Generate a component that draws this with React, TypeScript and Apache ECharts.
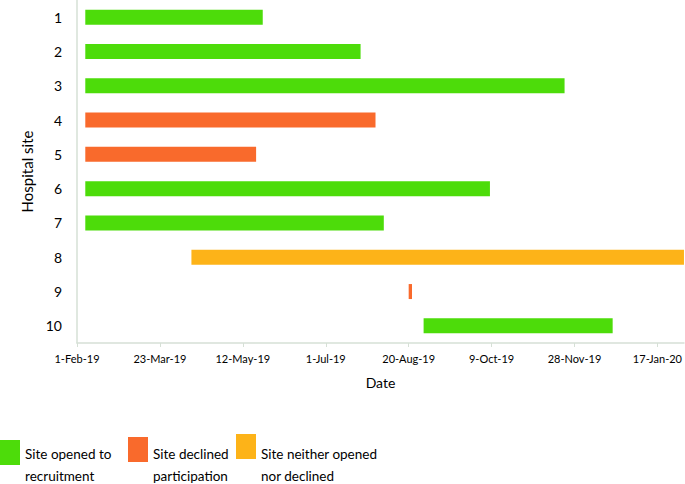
import React, { useEffect, useRef } from "react";
import * as echarts from "echarts";

const sites = ["1", "2", "3", "4", "5", "6", "7", "8", "9", "10"];
const startDates = [
  "2019-02-06", "2019-02-06", "2019-02-06", "2019-02-06", "2019-02-06",
  "2019-02-06", "2019-02-06", "2019-04-11", "2019-08-20", "2019-08-29",
];
const endDates = [
  "2019-05-24", "2019-07-22", "2019-11-22", "2019-07-31", "2019-05-20",
  "2019-10-08", "2019-08-05", "2020-02-02", "2019-08-22", "2019-12-21",
];
// 0 = opened, 1 = declined, 2 = neither
const statuses = [0, 0, 0, 1, 1, 0, 0, 2, 1, 0];
const statusNames = [
  "Site opened to\nrecruitment",
  "Site declined\nparticipation",
  "Site neither opened\nnor declined",
];
const statusColors = ["#4ddc0a", "#f96a2c", "#fdb318"];
const axisStart = "2019-02-01";
const axisEndDays = 366;
const tickStepDays = 50;

const MONTHS = ["Jan", "Feb", "Mar", "Apr", "May", "Jun", "Jul", "Aug", "Sep", "Oct", "Nov", "Dec"];
const DAY = 86400000;
const toMs = (s: string) => {
  const [y, m, d] = s.split("-").map(Number);
  return Date.UTC(y, m - 1, d);
};
const base = toMs(axisStart);
const toDays = (s: string) => (toMs(s) - base) / DAY;
const fmt = (days: number) => {
  const d = new Date(base + days * DAY);
  return `${d.getUTCDate()}-${MONTHS[d.getUTCMonth()]}-${String(d.getUTCFullYear()).slice(2)}`;
};

const FONT = "Lato, 'Noto Sans', sans-serif";

export default function App() {
  const ref = useRef<HTMLDivElement>(null);
  useEffect(() => {
    document.body.style.margin = "0";
    document.body.style.overflow = "hidden";
    if (!ref.current) return;
    const chart = echarts.init(ref.current, undefined, { renderer: "svg" });
    const data = sites.map((s, i) => ({
      value: [toDays(startDates[i]), toDays(endDates[i]), i],
      itemStyle: { color: statusColors[statuses[i]] },
    }));
    const legendX = [0, 128, 236];
    const legendY = [440, 437, 434];
    const graphics: any[] = [];
    statusNames.forEach((name, k) => {
      graphics.push({
        type: "rect",
        left: legendX[k],
        top: legendY[k],
        shape: { width: 20, height: 25 },
        style: { fill: statusColors[k] },
      });
      graphics.push({
        type: "text",
        left: legendX[k] + 25,
        top: 443,
        style: {
          text: name,
          font: `13.5px ${FONT}`,
          fill: "#000",
          lineHeight: 22,
        },
      });
    });
    chart.setOption({
      animation: false,
      textStyle: { fontFamily: FONT },
      grid: { left: 77, right: 0, top: 0, bottom: 141, containLabel: false },
      xAxis: {
        type: "value",
        min: 0,
        max: axisEndDays,
        interval: tickStepDays,
        name: "Date",
        nameLocation: "middle",
        nameGap: 32,
        nameTextStyle: { fontSize: 14, color: "#000", fontFamily: FONT },
        axisLine: { show: true, lineStyle: { color: "#d6e0d6", width: 1.5 } },
        axisTick: { show: true, length: 4, lineStyle: { color: "#d6e0d6" } },
        splitLine: { show: false },
        axisLabel: {
          fontSize: 11,
          color: "#000",
          margin: 10,
          showMaxLabel: false,
          formatter: (v: number) => (v % tickStepDays === 0 ? fmt(v) : ""),
        },
      },
      yAxis: {
        type: "category",
        data: sites,
        inverse: true,
        name: "Hospital site",
        nameLocation: "middle",
        nameGap: 36,
        nameTextStyle: { fontSize: 15, color: "#000", fontFamily: FONT },
        axisLine: { show: true, lineStyle: { color: "#d6e0d6", width: 1.5 } },
        axisTick: { show: false },
        axisLabel: { fontSize: 14, color: "#000", margin: 15 },
      },
      series: [
        {
          type: "custom",
          clip: true,
          encode: { x: [0, 1], y: 2 },
          renderItem: (params: any, api: any) => {
            const s = api.value(0);
            const e = api.value(1);
            const y = api.value(2);
            const p0 = api.coord([s, y]);
            const p1 = api.coord([e, y]);
            const h = 15;
            const rect = echarts.graphic.clipRectByRect(
              { x: p0[0], y: p0[1] - h / 2, width: Math.max(p1[0] - p0[0], 3), height: h },
              {
                x: params.coordSys.x,
                y: params.coordSys.y,
                width: params.coordSys.width,
                height: params.coordSys.height,
              }
            );
            return rect && {
              type: "rect",
              shape: rect,
              style: { fill: api.visual("color") },
            };
          },
          data,
        },
      ],
      graphic: graphics,
    });
    return () => chart.dispose();
  }, []);
  return <div ref={ref} style={{ width: 685, height: 484 }} />;
}
